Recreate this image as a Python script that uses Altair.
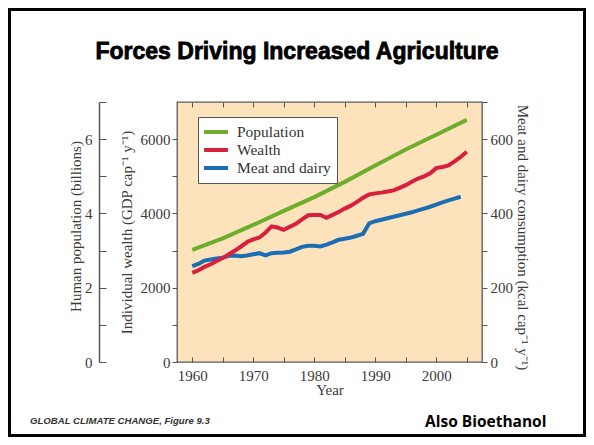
import altair as alt
import pandas as pd

# ---- data ----
pop_years = [1960, 1965, 1970, 1975, 1980, 1985, 1990, 1995, 2000, 2005]
pop_vals = [3.02, 3.33, 3.69, 4.07, 4.44, 4.85, 5.29, 5.72, 6.12, 6.52]

wealth_years = list(range(1960, 2006))
wealth_vals = [2400, 2470, 2560, 2630, 2720, 2800, 2900, 3000, 3110, 3230,
               3300, 3350, 3480, 3650, 3620, 3560, 3640, 3720, 3840, 3950,
               3960, 3960, 3880, 3960, 4040, 4130, 4210, 4310, 4420, 4510,
               4540, 4560, 4590, 4620, 4690, 4760, 4850, 4940, 5000, 5080,
               5220, 5250, 5290, 5400, 5520, 5660]

meat_years = list(range(1960, 2005))
meat_vals = [258, 264, 273, 276, 279, 281, 286, 287, 285, 287,
             290, 293, 287, 293, 294, 295, 297, 303, 310, 313,
             313, 311, 316, 322, 329, 332, 335, 340, 345, 373,
             379, 383, 387, 391, 395, 399, 403, 408, 413, 418,
             424, 430, 435, 440, 445]

series_names = ["Population", "Wealth", "Meat and dairy"]
series_colors = ["#6DAE2E", "#D81F3C", "#1B6DB5"]

x_ticks = [1960, 1965, 1970, 1975, 1980, 1985, 1990, 1995, 2000, 2005]
pop_ticks = [0, 1, 2, 3, 4, 5, 6, 7]
wealth_ticks = [0, 1000, 2000, 3000, 4000, 5000, 6000]
meat_ticks = [0, 100, 200, 300, 400, 500, 600, 700]

title_text = "Forces Driving Increased Agriculture"
credit_text = "GLOBAL CLIMATE CHANGE, Figure 9.3"
note_text = "Also Bioethanol"

pop_df = pd.DataFrame({"year": pop_years, "value": pop_vals, "series": series_names[0]})
wealth_df = pd.DataFrame({"year": wealth_years, "value": wealth_vals, "series": series_names[1]})
meat_df = pd.DataFrame({"year": meat_years, "value": meat_vals, "series": series_names[2]})

W, H = 305, 260
SERIF = "Liberation Serif"
LBL = "#3a3a3a"

xscale = alt.Scale(domain=[1957.5, 2007.5], nice=False, zero=False)
color_scale = alt.Scale(domain=series_names, range=series_colors)

legend = alt.Legend(
    title=None, orient="none", legendX=21, legendY=15,
    fillColor="white", strokeColor="#555", padding=6,
    labelFont=SERIF, labelFontSize=15.5, labelColor="#333",
    symbolType="M-1.7,0H1.7", symbolSize=196, symbolStrokeWidth=4,
    symbolOffset=3, labelOffset=12, rowPadding=0,
)

# bottom x axis with inward ticks (top-oriented axis moved to the bottom)
x_bottom = alt.Axis(
    orient="top", offset=-H, values=x_ticks, format="d",
    labelExpr="datum.value % 10 == 0 ? datum.label : ''",
    tickSize=5, tickColor="#555", domain=False, grid=False,
    labelBaseline="top", labelPadding=-11, labelFont=SERIF, labelFontSize=15,
    labelColor=LBL, title="Year", titleFont=SERIF, titleFontSize=15,
    titleFontWeight="normal", titleColor=LBL, titleX=W / 2, titleY=27,
    titleBaseline="middle", titleAlign="center",
)
# top inner ticks (bottom-oriented axis moved to the top)
x_top = alt.Axis(
    orient="bottom", offset=-H, values=x_ticks, labels=False, title=None,
    tickSize=5, tickColor="#555", domain=False, grid=False,
)

pop_axis = alt.Axis(
    orient="right", offset=-(W + 78), values=pop_ticks,
    labelExpr="datum.value % 2 == 0 ? datum.label : ''",
    tickSize=7, tickColor="#555", domain=True, domainColor="#555", domainWidth=1.5,
    grid=False, labelAlign="right", labelPadding=-14, labelBaseline="middle",
    labelFont=SERIF, labelFontSize=15, labelColor=LBL,
    title="Human population (billions)", titleFont=SERIF, titleFontSize=15,
    titleFontWeight="normal", titleColor=LBL, titleAngle=270,
    titleX=-24, titleY=124, titleBaseline="middle", titleAlign="center",
)
wealth_axis = alt.Axis(
    orient="left", offset=0, values=wealth_ticks,
    labelExpr="datum.value % 2000 == 0 ? datum.value : ''",
    tickSize=5, tickColor="#555", domain=False, grid=False,
    labelPadding=2, labelFont=SERIF, labelFontSize=15, labelColor=LBL,
    title="Individual wealth (GDP cap\u207b\u00b9 y\u207b\u00b9)", titleFont=SERIF,
    titleFontSize=15, titleFontWeight="normal", titleColor=LBL, titleAngle=270,
    titleX=-51, titleY=130, titleBaseline="middle", titleAlign="center",
)
meat_axis = alt.Axis(
    orient="right", offset=0, values=meat_ticks,
    labelExpr="datum.value % 200 == 0 ? datum.value : ''",
    tickSize=5, tickColor="#555", domain=False, grid=False,
    labelPadding=3, labelFont=SERIF, labelFontSize=15, labelColor=LBL,
    title="Meat and dairy consumption (kcal cap\u207b\u00b9 y\u207b\u00b9)", titleFont=SERIF,
    titleFontSize=15, titleFontWeight="normal", titleColor=LBL, titleAngle=90,
    titleX=40, titleY=135, titleBaseline="middle", titleAlign="center",
)

meat = alt.Chart(meat_df).mark_line(strokeWidth=4).encode(
    x=alt.X("year:Q", scale=xscale, axis=None),
    y=alt.Y("value:Q", scale=alt.Scale(domain=[0, 700], nice=False), axis=meat_axis),
    color=alt.Color("series:N", scale=color_scale, legend=legend),
)
wealth = alt.Chart(wealth_df).mark_line(strokeWidth=4).encode(
    x=alt.X("year:Q", scale=xscale, axis=x_top),
    y=alt.Y("value:Q", scale=alt.Scale(domain=[0, 7000], nice=False), axis=wealth_axis),
    color=alt.Color("series:N", scale=color_scale, legend=legend),
)
pop = alt.Chart(pop_df).mark_line(strokeWidth=4).encode(
    x=alt.X("year:Q", scale=xscale, axis=x_bottom),
    y=alt.Y("value:Q", scale=alt.Scale(domain=[0, 7], nice=False), axis=pop_axis),
    color=alt.Color("series:N", scale=color_scale, legend=legend),
)

# slide decorations (positions relative to the plot origin)
frame = alt.Chart(alt.Data(values=[{"k": 1}])).mark_rect(
    fill="transparent", stroke="black", strokeWidth=3
).encode(x=alt.value(-167.5), x2=alt.value(407.5), y=alt.value(-92.5), y2=alt.value(333.5))

title = alt.Chart(alt.Data(values=[{"t": title_text}])).mark_text(
    font="Liberation Sans", fontSize=23, fontWeight="bold", color="black",
    stroke="black", strokeWidth=0.8, align="center", baseline="alphabetic",
).encode(text="t:N", x=alt.value(297 - 177), y=alt.value(59 - 102))

credit = alt.Chart(alt.Data(values=[{"t": credit_text}])).mark_text(
    font="Liberation Sans", fontSize=9.6, fontWeight="bold", fontStyle="italic",
    color="#333", align="left", baseline="alphabetic",
).encode(text="t:N", x=alt.value(30 - 177), y=alt.value(424 - 102))

note = alt.Chart(alt.Data(values=[{"t": note_text}])).mark_text(
    font="Open Sans", fontSize=15.5, fontWeight="bold", color="black",
    align="left", baseline="alphabetic",
).encode(text="t:N", x=alt.value(425 - 177), y=alt.value(427 - 102))

chart = alt.layer(meat, wealth, pop, frame, title, credit, note).resolve_scale(
    y="independent"
).resolve_axis(x="independent", y="independent").properties(
    width=W, height=H,
    padding={"left": 169, "top": 94, "right": 104, "bottom": 75},
    autosize=alt.AutoSizeParams(type="none"),
    background="white",
).configure_view(fill="#FCE3BB", stroke="#5a5a5a", strokeWidth=1.3)

chart.save("out.html", embed_options={"renderer": "svg", "actions": False})
